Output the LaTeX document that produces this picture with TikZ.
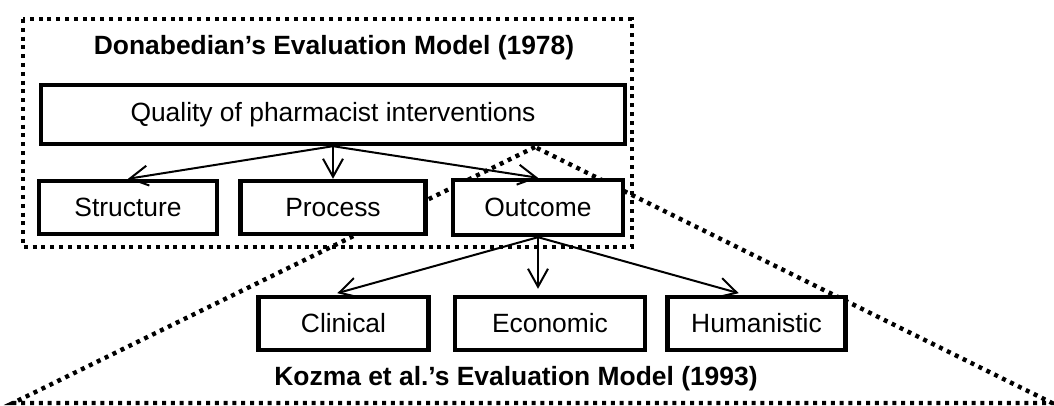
\documentclass[tikz,border=0pt]{standalone}
\usepackage{fontspec}
\setmainfont{Liberation Sans}
\usetikzlibrary{trees,arrows.meta}

\begin{document}
\begin{tikzpicture}[x=0.5pt, y=0.5pt,
        font=\fontsize{13.2}{16}\selectfont,
        level distance=46.5pt, sibling distance=102.5pt,
        level 2/.style = {level distance=58pt, sibling distance=103.25pt,
          edge from parent path = {(\tikzparentnode.south) --
            ([xshift=-6pt]\tikzchildnode.north)},
          every child/.style = {edge from parent/.append style = {shorten >=3pt}}},
        box/.style = {shape=rectangle, draw, fill=white,
          line width=2.2pt, align=center,
          minimum width=89pt, minimum height=26.5pt},
        title/.style = {font=\fontsize{13.2}{16}\selectfont\bfseries},
        dotframe/.style = {line width=2.2pt, dash pattern=on 2pt off 2.4pt},
        edge from parent/.style = {draw, line width=1pt,
          -{Straight Barb[length=9pt,width=10pt]}},
        edge from parent path = {(\tikzparentnode.south) -- (\tikzchildnode.north)}]
  \useasboundingbox (0,0) rectangle (1054,-406);
  % dotted frames of the two models
  \coordinate (apex) at (535,-147);
  \coordinate (baseleft) at (13,-403);
  \coordinate (baseright) at (1052,-403);
  \draw[dotframe] (apex) -- (baseleft) -- (baseright) -- cycle;
  \draw[dotframe] (23,-19) rectangle (632,-247);
  \node[title] (donabedian) at (334,-48) {Donabedian’s Evaluation Model (1978)};
  \node[title] (kozma) at (516,-379) {Kozma et al.’s Evaluation Model (1993)};
  % the tree
  \node[box, minimum width=292pt, minimum height=29.5pt] (quality) at (333,-114.5)
      {Quality of pharmacist interventions}
    child{node[box] (structure) {Structure}}
    child{node[box, minimum width=92.5pt] (process) {Process}}
    child{node[box, minimum width=85pt, minimum height=27.5pt] (outcome) {Outcome}
      child{node[box, xshift=6pt, minimum width=85pt] (clinical) {Clinical}}
      child{node[box, xshift=6pt, minimum width=95pt] (economic) {Economic}}
      child{node[box, xshift=6pt] (humanistic) {Humanistic}}};
\end{tikzpicture}
\end{document}
